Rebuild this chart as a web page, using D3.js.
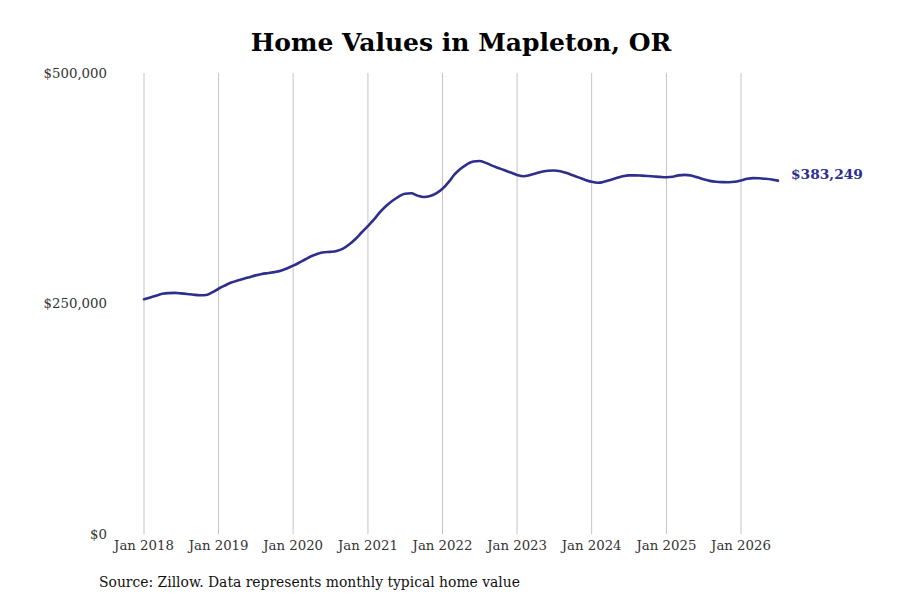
<!DOCTYPE html>
<html>
<head>
<meta charset="utf-8">
<script src="https://cdn.jsdelivr.net/npm/d3@7"></script>
<style>
  body { margin: 0; background: #fff; }
  text { font-family: "DejaVu Serif", serif; }
</style>
</head>
<body>
<div id="chart"></div>
<script>
// monthly typical home value (thousands of dollars), Jan 2018 .. Jul 2026
var startYear = 2018;
var values = [
  254.6, 256.5, 258.5, 260.5, 261.3, 261.5, 261.0, 260.3, 259.5, 259.0, 259.2, 262.0,
  266.0, 269.5, 272.5, 274.8, 276.5, 278.5, 280.5, 282.0, 283.0, 284.0, 285.5, 288.0,
  291.0, 294.5, 298.0, 301.5, 304.0, 305.5, 306.0, 307.0, 309.5, 314.0, 320.0, 327.0,
  334.0, 341.5, 349.0, 356.0, 361.5, 366.0, 369.0, 369.5, 367.0, 365.5, 366.5, 369.5,
  374.5, 382.0, 390.0, 396.5, 401.0, 404.0, 404.5, 402.5, 399.5, 397.0, 394.5, 392.0,
  389.5, 388.0, 389.0, 391.0, 393.0, 394.0, 394.3, 393.5, 391.5, 389.0, 386.5, 384.0,
  382.0, 381.0, 382.0, 384.0, 386.0, 388.0, 389.0, 389.0, 388.7, 388.3, 387.8, 387.3,
  387.0, 387.5, 389.0, 389.5, 388.8, 386.8, 384.8, 383.0, 382.0, 381.6, 381.5, 382.0,
  383.5, 385.3, 386.0, 385.8, 385.3, 384.5, 383.249
];
var yTicks = [0, 250000, 500000];
var xTickYears = [2018, 2019, 2020, 2021, 2022, 2023, 2024, 2025, 2026];
var lastLabel = "$383,249";

var width = 900, height = 600;
var lineColor = "#2e2e8c";

var data = values.map(function (v, i) {
  return { date: new Date(startYear, i, 1), value: v * 1000 };
});

var svg = d3.select("#chart").append("svg")
  .attr("width", width)
  .attr("height", height);

var x = d3.scaleTime()
  .domain([new Date(2018, 0, 1), new Date(2026, 0, 1)])
  .range([144, 741]);

var y = d3.scaleLinear()
  .domain([0, 500000])
  .range([534, 73]);

// vertical gridlines at each January
svg.append("g")
  .selectAll("line")
  .data(xTickYears)
  .enter()
  .append("line")
  .attr("x1", function (d) { return x(new Date(d, 0, 1)); })
  .attr("x2", function (d) { return x(new Date(d, 0, 1)); })
  .attr("y1", y(500000))
  .attr("y2", y(0))
  .attr("stroke", "#c4c4c4")
  .attr("stroke-width", 1);

// x labels
svg.append("g")
  .selectAll("text")
  .data(xTickYears)
  .enter()
  .append("text")
  .attr("x", function (d) { return x(new Date(d, 0, 1)); })
  .attr("y", 550)
  .attr("text-anchor", "middle")
  .attr("font-size", "13.3px")
  .attr("fill", "#333")
  .text(function (d) { return "Jan " + d; });

// y labels
var fmt = d3.format("$,");
svg.append("g")
  .selectAll("text")
  .data(yTicks)
  .enter()
  .append("text")
  .attr("x", 107)
  .attr("y", function (d) { return y(d); })
  .attr("dy", "0.35em")
  .attr("text-anchor", "end")
  .attr("font-size", "13.3px")
  .attr("fill", "#333")
  .text(function (d) { return fmt(d); });

var line = d3.line()
  .x(function (d) { return x(d.date); })
  .y(function (d) { return y(d.value); })
  .curve(d3.curveMonotoneX);

svg.append("path")
  .datum(data)
  .attr("d", line)
  .attr("fill", "none")
  .attr("stroke", lineColor)
  .attr("stroke-width", 2.6)
  .attr("stroke-linejoin", "round")
  .attr("stroke-linecap", "round");

var last = data[data.length - 1];
svg.append("text")
  .attr("x", x(last.date) + 13)
  .attr("y", y(last.value) - 6)
  .attr("dy", "0.35em")
  .attr("font-size", "13.8px")
  .attr("font-weight", "bold")
  .attr("fill", lineColor)
  .text(lastLabel);

svg.append("text")
  .attr("x", 461)
  .attr("y", 51)
  .attr("text-anchor", "middle")
  .attr("font-size", "25px")
  .attr("font-weight", "bold")
  .attr("fill", "#000")
  .text("Home Values in Mapleton, OR");

svg.append("text")
  .attr("x", 99)
  .attr("y", 587)
  .attr("font-size", "13.9px")
  .attr("fill", "#111")
  .text("Source: Zillow. Data represents monthly typical home value");
</script>
</body>
</html>
